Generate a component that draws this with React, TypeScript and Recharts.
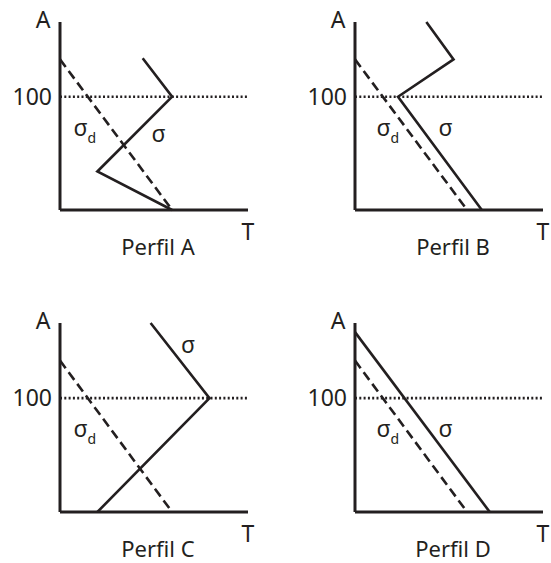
import React from 'react';
import { LineChart, Line, XAxis, YAxis, ReferenceLine, ReferenceDot, Label } from 'recharts';

// escala comun: T y A en las mismas unidades, 100 = linea punteada
const T_MAX = 166;
const A_MAX = 166;
const A_REF = 100;
const yTicks = [100];

// perfil A
const sigmaDA = [{ t: 0, a: 133 }, { t: 99, a: 0 }];
const sigmaA = [{ t: 73, a: 134 }, { t: 99, a: 100 }, { t: 33, a: 34 }, { t: 99, a: 0 }];
// perfil B
const sigmaDB = [{ t: 0, a: 133 }, { t: 99, a: 0 }];
const sigmaB = [{ t: 63, a: 166 }, { t: 87, a: 133 }, { t: 38, a: 100 }, { t: 112, a: 0 }];
// perfil C
const sigmaDC = [{ t: 0, a: 133 }, { t: 99, a: 0 }];
const sigmaC = [{ t: 80, a: 166 }, { t: 132, a: 100 }, { t: 33, a: 0 }];
// perfil D
const sigmaDD = [{ t: 0, a: 133 }, { t: 99, a: 0 }];
const sigmaD = [{ t: 0, a: 158 }, { t: 119, a: 0 }];

// posiciones de las etiquetas sigma / sigma_d
const labelSigma = [{ t: 87, a: 60 }, { t: 80, a: 65 }, { t: 113, a: 140 }, { t: 80, a: 66 }];
const labelSigmaD = [{ t: 12, a: 65 }, { t: 19, a: 65 }, { t: 12, a: 66 }, { t: 19, a: 66 }];

const INK = '#231f20';
const FONT = '"Noto Sans", sans-serif';

const SigmaText = (props: any) => {
    const vb = props.viewBox;
    const x = vb.x + vb.width / 2;
    const y = vb.y + vb.height / 2;
    return (
        <text x={x} y={y} textAnchor="middle" fontSize={23} fontFamily={FONT} fill={INK}>σ</text>
    );
};

const SigmaDText = (props: any) => {
    const vb = props.viewBox;
    const x = vb.x + vb.width / 2;
    const y = vb.y + vb.height / 2;
    return (
        <g>
            <text x={x} y={y} textAnchor="start" fontSize={23} fontFamily={FONT} fill={INK}>σ</text>
            <text x={x + 14} y={y + 7} textAnchor="start" fontSize={14} fontFamily={FONT} fill={INK}>d</text>
        </g>
    );
};

interface PanelProps {
    title: string;
    sigma: any[];
    sigmaD: any[];
    lblS: { t: number; a: number };
    lblD: { t: number; a: number };
    left: number;
    top: number;
    width: number;
    height: number;
    margin: { top: number; right: number; bottom: number; left: number };
}

function Panel({ title, sigma, sigmaD, lblS, lblD, left, top, width, height, margin }: PanelProps) {
    const titleLabel = (props: any) => {
        const vb = props.viewBox;
        return (
            <g>
                <text x={vb.x + vb.width / 2 + 4} y={vb.y + 45} textAnchor="middle" fontSize={22} fontFamily={FONT} fill={INK}>
                    {title}
                </text>
                <text x={vb.x + vb.width} y={vb.y + 30} textAnchor="middle" fontSize={23} fontFamily={FONT} fill={INK}>
                    T
                </text>
            </g>
        );
    };
    const aLabel = (props: any) => {
        const vb = props.viewBox;
        return (
            <text x={vb.x + vb.width - 17} y={vb.y + 6} textAnchor="middle" fontSize={23} fontFamily={FONT} fill={INK}>
                A
            </text>
        );
    };

    return (
        <div style={{ position: 'absolute', left, top }}>
            <LineChart width={width} height={height} margin={margin}>
                <XAxis
                    dataKey="t"
                    type="number"
                    domain={[0, T_MAX]}
                    tick={false}
                    tickLine={false}
                    axisLine={{ stroke: INK, strokeWidth: 3 }}
                    height={40}
                >
                    <Label content={titleLabel} />
                </XAxis>
                <YAxis
                    dataKey="a"
                    type="number"
                    domain={[0, A_MAX]}
                    ticks={yTicks}
                    tickLine={false}
                    axisLine={{ stroke: INK, strokeWidth: 3 }}
                    tick={{ fontSize: 23, fill: INK, fontFamily: FONT }}
                    width={50}
                >
                    <Label content={aLabel} />
                </YAxis>
                <ReferenceLine y={A_REF} stroke={INK} strokeWidth={2.6} strokeDasharray="2 2.3" />
                <Line
                    data={sigmaD}
                    dataKey="a"
                    type="linear"
                    stroke={INK}
                    strokeWidth={2.6}
                    strokeDasharray="9.5 5"
                    dot={false}
                    isAnimationActive={false}
                />
                <Line
                    data={sigma}
                    dataKey="a"
                    type="linear"
                    stroke={INK}
                    strokeWidth={2.6}
                    dot={false}
                    isAnimationActive={false}
                />
                <ReferenceDot x={lblS.t} y={lblS.a} r={1} fill="none" stroke="none" label={<SigmaText />} />
                <ReferenceDot x={lblD.t} y={lblD.a} r={1} fill="none" stroke="none" label={<SigmaDText />} />
            </LineChart>
        </div>
    );
}

export default function App() {
    return (
        <div style={{ position: 'absolute', left: 0, top: 0, width: 551, height: 563, background: '#fff' }}>
            <Panel title="Perfil A" sigma={sigmaA} sigmaD={sigmaDA} lblS={labelSigma[0]} lblD={labelSigmaD[0]}
                left={0} top={0} width={275} height={280} margin={{ top: 22, right: 27, bottom: 30, left: 10 }} />
            <Panel title="Perfil B" sigma={sigmaB} sigmaD={sigmaDB} lblS={labelSigma[1]} lblD={labelSigmaD[1]}
                left={275} top={0} width={276} height={280} margin={{ top: 22, right: 8, bottom: 30, left: 30 }} />
            <Panel title="Perfil C" sigma={sigmaC} sigmaD={sigmaDC} lblS={labelSigma[2]} lblD={labelSigmaD[2]}
                left={0} top={280} width={275} height={283} margin={{ top: 43, right: 27, bottom: 11, left: 10 }} />
            <Panel title="Perfil D" sigma={sigmaD} sigmaD={sigmaDD} lblS={labelSigma[3]} lblD={labelSigmaD[3]}
                left={275} top={280} width={276} height={283} margin={{ top: 43, right: 8, bottom: 11, left: 30 }} />
        </div>
    );
}
